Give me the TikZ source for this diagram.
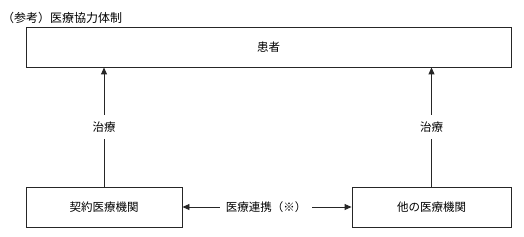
\documentclass[tikz,border=0pt]{standalone}
\usepackage{fontspec}
\setmainfont{Noto Sans CJK JP}
\usetikzlibrary{arrows.meta}
\begin{document}
\begin{tikzpicture}[x=1pt,y=1pt,
  box/.style={draw=black!85, line width=0.9pt, minimum height=40pt, inner sep=0pt, font=\fontsize{11.5}{13}\selectfont},
  arr/.style={draw=black!85, line width=0.9pt, -{Triangle[length=7pt,width=6pt]}},
  lbl/.style={fill=white, inner xsep=3pt, inner ysep=7pt, font=\fontsize{11.5}{13}\selectfont}]
\useasboundingbox (0,0) rectangle (524,236);
\node[anchor=west, inner sep=0pt, font=\fontsize{12}{14}\selectfont] (title) at (2,218) {（参考）医療協力体制};
\node[box, minimum width=485pt] (top) at (268.5,189) {患者};
\node[box, minimum width=156pt] (lbox) at (104,29) {契約医療機関};
\node[box, minimum width=159pt] (rbox) at (431.5,29) {他の医療機関};
\node[lbl, inner xsep=6pt, inner ysep=3pt] (coop) at (266,29) {医療連携（※）};
\draw[arr] (lbox.north) -- node[lbl]{治療} (lbox.north |- top.south);
\draw[arr] (rbox.north) -- node[lbl]{治療} (rbox.north |- top.south);
\draw[arr] (coop.west) -- (lbox.east);
\draw[arr] (coop.east) -- (rbox.west);
\end{tikzpicture}
\end{document}
